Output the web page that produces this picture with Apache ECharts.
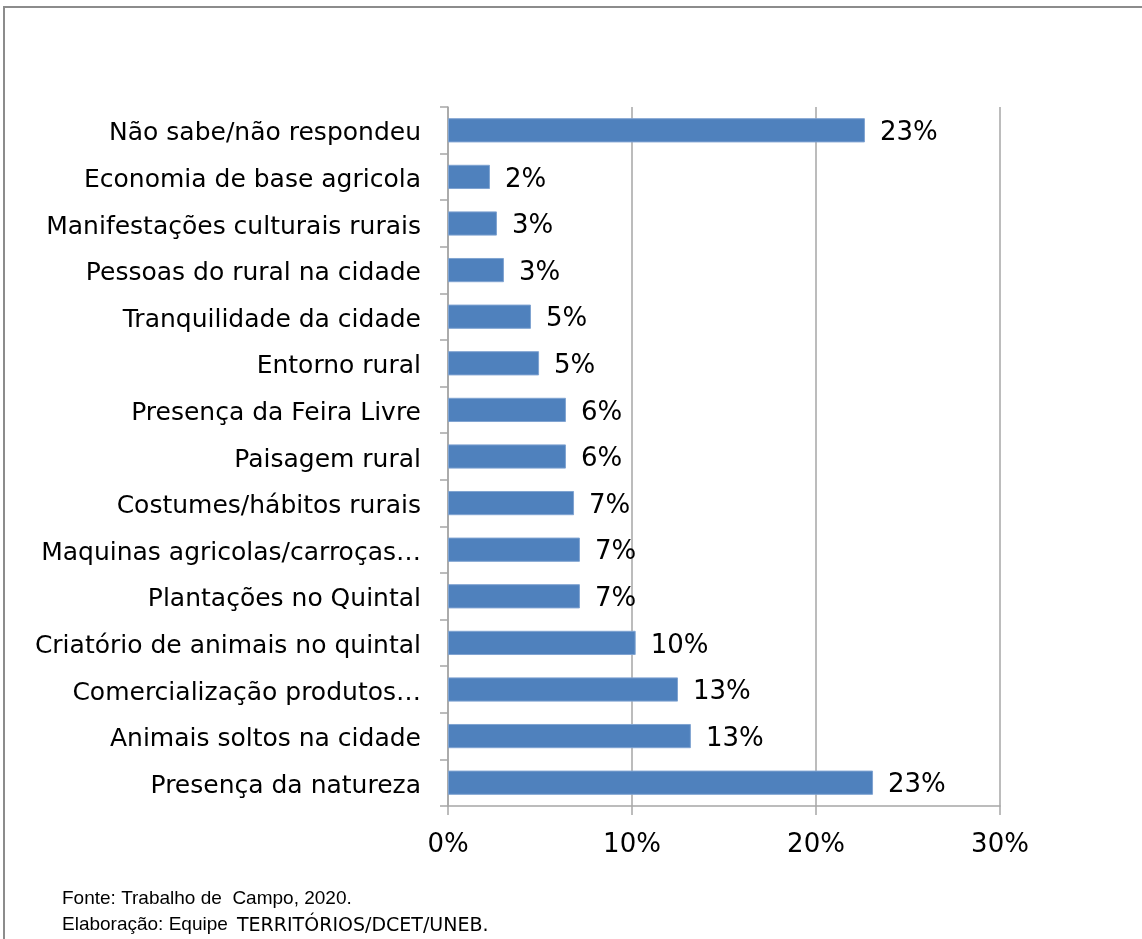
<!DOCTYPE html>
<html>
<head>
<meta charset="utf-8">
<script src="https://cdn.jsdelivr.net/npm/echarts@6/dist/echarts.min.js"></script>
<style>
html,body{margin:0;padding:0;background:#fff;}
#chart{width:1142px;height:939px;}
</style>
</head>
<body>
<div id="chart"></div>
<script>
const categories = [
  'Não sabe/não respondeu',
  'Economia de base agricola',
  'Manifestações culturais rurais',
  'Pessoas do rural na cidade',
  'Tranquilidade da cidade',
  'Entorno rural',
  'Presença da Feira Livre',
  'Paisagem rural',
  'Costumes/hábitos rurais',
  'Maquinas agricolas/carroças…',
  'Plantações no Quintal',
  'Criatório de animais no quintal',
  'Comercialização produtos…',
  'Animais soltos na cidade',
  'Presença da natureza'
];
const values = [22.66, 2.28, 2.66, 3.04, 4.51, 4.95, 6.41, 6.41, 6.85, 7.17, 7.17, 10.2, 12.5, 13.2, 23.1];
const xTicks = [0, 10, 20, 30];
const footnotes = ['Fonte: Trabalho de  Campo, 2020.', 'Elaboração: Equipe', 'TERRITÓRIOS/DCET/UNEB.'];

const chart = echarts.init(document.getElementById('chart'));
const font = 'DejaVu Sans, Verdana, sans-serif';
const smallFont = 'Liberation Sans, Arial, sans-serif';
chart.setOption({
  animation: false,
  backgroundColor: '#fff',
  grid: { left: 448, right: 142, top: 107, bottom: 133, containLabel: false },
  xAxis: {
    type: 'value',
    min: xTicks[0], max: xTicks[xTicks.length - 1], interval: 10,
    axisLine: { show: true, lineStyle: { color: '#A6A6A6', width: 1.5 } },
    axisTick: { show: true, length: 9, lineStyle: { color: '#A6A6A6', width: 1.5 } },
    splitLine: { show: true, lineStyle: { color: '#A6A6A6', width: 1.5 } },
    axisLabel: { formatter: '{value}%', color: '#000', fontFamily: font, fontSize: 26, margin: 26 }
  },
  yAxis: {
    type: 'category',
    data: categories,
    inverse: true,
    axisLine: { show: true, lineStyle: { color: '#A6A6A6', width: 1.5 } },
    axisTick: { show: true, length: 8, lineStyle: { color: '#A6A6A6', width: 1.5 } },
    axisLabel: {
      margin: 27,
      formatter: v => '{c|' + v + '}',
      rich: { c: { color: '#000', fontFamily: font, fontSize: 25, padding: [7, 0, 0, 0] } }
    }
  },
  series: [{
    type: 'bar',
    data: values,
    barCategoryGap: '48%',
    itemStyle: { color: '#4F81BD', borderColor: '#7FA3D1', borderWidth: 1 },
    label: {
      show: true, position: 'right', distance: 15, offset: [0, 3],
      color: '#000', fontFamily: font, fontSize: 26,
      formatter: p => Math.round(p.value) + '%'
    }
  }],
  graphic: [
    { type: 'rect', shape: { x: 4, y: 7, width: 1160, height: 960 }, style: { fill: 'none', stroke: '#8C8C8C', lineWidth: 2 }, silent: true },
    { type: 'text', left: 62, top: 889, style: { text: footnotes[0], fontFamily: smallFont, fontSize: 19, fill: '#000' } },
    { type: 'text', left: 62, top: 915, style: { text: footnotes[1], fontFamily: smallFont, fontSize: 19, fill: '#000' } },
    { type: 'text', left: 237, top: 917, style: { text: footnotes[2], fontFamily: font, fontSize: 19, fill: '#000' } }
  ]
});
</script>
</body>
</html>
